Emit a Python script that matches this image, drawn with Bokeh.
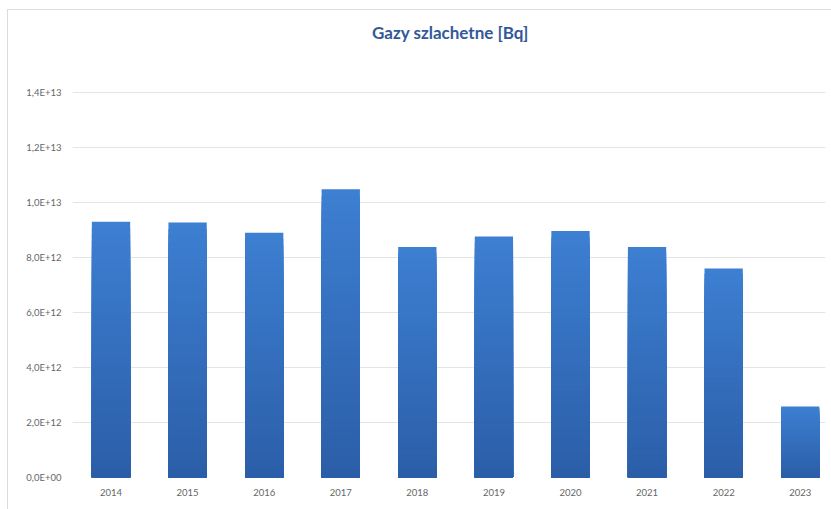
from bokeh.plotting import figure
from bokeh.models import FixedTicker, Range1d, Label
from bokeh.embed import file_html
from bokeh.resources import INLINE

# Annual noble-gas discharges, Bq
years = [2014, 2015, 2016, 2017, 2018, 2019, 2020, 2021, 2022, 2023]
activity = [9.30e12, 9.27e12, 8.90e12, 1.048e13, 8.38e12, 8.76e12, 8.96e12, 8.38e12, 7.60e12, 2.58e12]

y_ticks = [0, 2000000000000, 4000000000000, 6000000000000, 8000000000000,
           10000000000000, 12000000000000, 14000000000000]
y_tick_labels = ["0,0E+00", "2,0E+12", "4,0E+12", "6,0E+12", "8,0E+12",
                 "1,0E+13", "1,2E+13", "1,4E+13"]

title_text = "Gazy szlachetne [Bq]"
font = "Lato"

# the frame runs from 10px to 477px; the value axis tops out at 1.4E+13
# (at 92px) and the space above it holds the title
axis_top = 1.4e13
px_per_bq = 385 / axis_top
x0, x1 = 2013.497, 2023.33
px_per_year = 76.6
y0, y1 = 0, axis_top + 82 / px_per_bq

p = figure(width=831, height=509, output_backend="svg", toolbar_location=None,
           x_range=Range1d(x0, x1), y_range=Range1d(y0, y1),
           min_border_left=72, min_border_right=6, min_border_top=10,
           min_border_bottom=32)

p.add_layout(Label(x=x0 + 378 / px_per_year, y=axis_top + 60 / px_per_bq,
                   text=title_text, text_align="center", text_baseline="middle",
                   text_font=font, text_font_style="bold", text_font_size="17px",
                   text_color="#33589a"))

# bars with a vertical light-to-dark gradient: overlapping bars, each one
# shorter and darker than the previous, so the colour steps have no seams
top_rgb = (0x3d, 0x7f, 0xd2)
bot_rgb = (0x2b, 0x5e, 0xa8)
n = 40
for k in range(n, 0, -1):
    t = (k - 0.5) / n
    c = tuple(int(round(bot_rgb[i] + (top_rgb[i] - bot_rgb[i]) * t)) for i in range(3))
    col = "#%02x%02x%02x" % c
    p.vbar(x=years, width=0.5, bottom=0,
           top=[v * k / n for v in activity],
           fill_color=col, line_color=None)

# axes
p.xaxis.ticker = FixedTicker(ticks=years)
p.xaxis.major_label_overrides = {y: str(y) for y in years}
p.yaxis.ticker = FixedTicker(ticks=y_ticks)
p.yaxis.major_label_overrides = dict(zip(y_ticks, y_tick_labels))
for ax in (p.xaxis, p.yaxis):
    ax.axis_line_color = None
    ax.major_tick_line_color = None
    ax.minor_tick_line_color = None
    ax.major_label_text_font = font
    ax.major_label_text_font_size = "9.5px"
    ax.major_label_text_color = "#666666"
p.xaxis.major_label_standoff = 5
p.yaxis.major_label_standoff = 5

p.xgrid.grid_line_color = None
p.ygrid.grid_line_color = "#e4e4e4"
p.ygrid.grid_line_width = 1
p.outline_line_color = None

p.background_fill_color = None
p.border_fill_color = None

# thin chart-area border along the left and top edges
p.styles = {
    "background-color": "white",
    "box-shadow": "inset 7px 9px 0 0 #ffffff, inset 8px 10px 0 0 #dcdcdc",
}

open("out.html", "w").write(file_html(p, INLINE))
